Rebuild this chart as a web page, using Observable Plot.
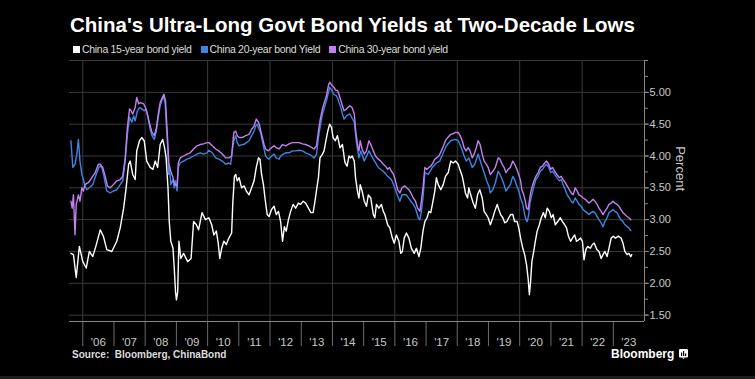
<!DOCTYPE html>
<html><head><meta charset="utf-8">
<script src="https://cdn.jsdelivr.net/npm/d3@7"></script>
<script src="https://cdn.jsdelivr.net/npm/@observablehq/plot@0.6"></script>
<style>
html,body{margin:0;padding:0;background:#000;}
#wrap{position:relative;width:755px;height:379px;background:#000;overflow:hidden;font-family:"Liberation Sans",Arial,sans-serif;}
#chart{position:absolute;left:0;top:0;}
#title{position:absolute;left:70px;top:15px;font-size:20.5px;font-weight:bold;color:#fff;line-height:1;white-space:nowrap;}
#legend{position:absolute;left:73px;top:44.4px;display:flex;gap:9px;font-size:10.5px;line-height:10.5px;color:#ddd;letter-spacing:-0.3px;white-space:nowrap;}
#legend .item{display:flex;align-items:center;}
#legend .sw{width:7px;height:7px;margin-right:2px;}
#source{position:absolute;left:72px;top:349.8px;font-size:10px;line-height:1;font-weight:bold;color:#ddd;white-space:pre;}
#brand{position:absolute;left:611px;top:348px;font-size:12px;line-height:1;font-weight:bold;color:#fff;}
#icon{position:absolute;left:679px;top:349px;}
#strip{position:absolute;left:0;top:376px;width:755px;height:3px;background:#1c1c1c;}
</style></head>
<body>
<div id="wrap">
  <div id="chart"></div>
  <div id="title"></div>
  <div id="legend"></div>
  <div id="source"></div>
  <div id="brand"></div>
  <svg id="icon" width="9" height="10" viewBox="0 0 9 10"><rect x="0" y="0" width="9" height="8.5" rx="1.2" fill="#fff"/><path d="M3 8.5 L4.5 10 L6 8.5Z" fill="#fff"/><rect x="2" y="3.5" width="1.2" height="3.5" fill="#000"/><rect x="4" y="2" width="1.2" height="5" fill="#000"/><rect x="6" y="4.5" width="1.2" height="2.5" fill="#000"/></svg>
  <div id="strip"></div>
</div>
<script>
const titleText = "China's Ultra-Long Govt Bond Yields at Two-Decade Lows";
const sourceText = "Source:  Bloomberg, ChinaBond";
const brandText = "Bloomberg";
const seriesNames = ["China 15-year bond yield", "China 20-year bond Yield", "China 30-year bond yield"];
const seriesColors = ["#ffffff", "#3d85e0", "#c37ff0"];
const tickYears = [2006,2007,2008,2009,2010,2011,2012,2013,2014,2015,2016,2017,2018,2019,2020,2021,2022,2023];
const gridYears = [2006,2008,2010,2012,2014,2016,2018,2020,2022];
const yTicks = [1.5,2.0,2.5,3.0,3.5,4.0,4.5,5.0];
const yGrid = [1.5,2.0,2.5,3.0,3.5,4.0,4.5,5.0,5.5];
const yMinorTicks = [1.5,1.75,2.0,2.25,2.5,2.75,3.0,3.25,3.5,3.75,4.0,4.25,4.5,4.75,5.0,5.25,5.5];

// [decimal year, percent]
const yield15 = [
[2005.62,2.47],[2005.70,2.45],[2005.79,2.09],[2005.89,2.58],[2006.00,2.34],[2006.11,2.24],[2006.21,2.50],[2006.32,2.42],
[2006.43,2.60],[2006.56,2.84],[2006.66,2.74],[2006.77,2.53],[2006.93,2.50],[2007.09,2.66],[2007.20,2.87],[2007.31,3.18],
[2007.39,3.50],[2007.47,3.87],[2007.52,3.92],[2007.60,3.71],[2007.68,3.63],[2007.73,4.08],[2007.82,4.24],[2007.89,4.29],
[2007.97,4.24],[2008.05,3.92],[2008.16,3.82],[2008.25,3.79],[2008.32,3.92],[2008.40,3.82],[2008.48,4.18],[2008.56,4.26],
[2008.62,4.13],[2008.67,3.97],[2008.73,3.50],[2008.77,2.97],[2008.82,2.66],[2008.89,2.55],[2008.93,2.24],[2008.97,1.87],
[2009.00,1.74],[2009.04,1.87],[2009.08,2.66],[2009.14,2.39],[2009.23,2.47],[2009.36,2.34],[2009.47,2.39],[2009.55,2.97],
[2009.64,2.92],[2009.71,2.84],[2009.82,3.11],[2009.93,3.00],[2010.04,3.03],[2010.13,2.92],[2010.20,2.76],[2010.28,2.82],
[2010.34,2.63],[2010.39,2.39],[2010.45,2.55],[2010.52,2.66],[2010.60,2.61],[2010.68,2.71],[2010.77,2.79],[2010.81,3.29],
[2010.86,3.68],[2010.90,3.71],[2010.95,3.61],[2011.01,3.66],[2011.09,3.50],[2011.17,3.53],[2011.24,3.45],[2011.33,3.39],
[2011.41,3.50],[2011.49,3.61],[2011.56,3.82],[2011.63,3.97],[2011.68,3.95],[2011.73,3.71],[2011.79,3.55],[2011.84,3.34],
[2011.91,3.08],[2011.97,3.05],[2012.05,3.16],[2012.13,3.21],[2012.20,3.08],[2012.27,3.13],[2012.34,2.97],[2012.40,2.66],
[2012.46,2.89],[2012.52,2.82],[2012.59,3.00],[2012.66,3.13],[2012.74,3.24],[2012.82,3.18],[2012.91,3.26],[2012.98,3.24],
[2013.06,3.29],[2013.14,3.26],[2013.23,3.18],[2013.31,3.11],[2013.38,3.11],[2013.44,3.29],[2013.50,3.50],[2013.55,3.66],
[2013.60,3.97],[2013.68,4.03],[2013.73,4.08],[2013.79,4.24],[2013.85,4.39],[2013.91,4.50],[2013.97,4.45],[2014.02,4.29],
[2014.09,4.24],[2014.16,4.32],[2014.24,4.13],[2014.32,4.18],[2014.40,3.90],[2014.47,3.84],[2014.53,4.00],[2014.58,3.97],
[2014.63,4.00],[2014.70,3.92],[2014.74,3.66],[2014.81,3.42],[2014.85,3.34],[2014.89,3.55],[2014.95,3.45],[2015.02,3.29],
[2015.09,3.21],[2015.15,3.39],[2015.23,3.34],[2015.31,3.08],[2015.36,3.03],[2015.41,3.24],[2015.49,3.18],[2015.57,3.24],
[2015.63,3.13],[2015.68,3.08],[2015.77,2.92],[2015.84,2.87],[2015.92,2.71],[2015.98,2.63],[2016.05,2.76],[2016.13,2.66],
[2016.19,2.47],[2016.24,2.50],[2016.30,2.71],[2016.37,2.79],[2016.45,2.71],[2016.53,2.55],[2016.62,2.47],[2016.69,2.55],
[2016.77,2.42],[2016.83,2.55],[2016.90,2.82],[2016.96,2.97],[2017.03,3.03],[2017.09,3.13],[2017.15,3.11],[2017.22,3.29],
[2017.28,3.45],[2017.33,3.66],[2017.39,3.55],[2017.47,3.47],[2017.55,3.55],[2017.62,3.68],[2017.71,3.74],[2017.79,3.92],
[2017.87,3.89],[2017.94,3.92],[2018.03,3.87],[2018.08,3.79],[2018.16,3.68],[2018.22,3.53],[2018.26,3.42],[2018.33,3.34],
[2018.37,3.50],[2018.43,3.39],[2018.51,3.26],[2018.58,3.18],[2018.65,3.39],[2018.72,3.47],[2018.80,3.34],[2018.86,3.13],
[2018.93,3.08],[2018.99,3.03],[2019.06,2.92],[2019.14,3.03],[2019.20,3.13],[2019.28,3.24],[2019.33,3.16],[2019.39,3.08],
[2019.46,3.03],[2019.52,2.95],[2019.59,2.97],[2019.65,3.03],[2019.71,3.08],[2019.78,3.08],[2019.84,2.97],[2019.92,2.97],
[2019.97,2.87],[2020.03,2.71],[2020.10,2.55],[2020.16,2.45],[2020.22,2.29],[2020.27,2.08],[2020.31,1.82],[2020.35,2.03],
[2020.39,2.34],[2020.45,2.50],[2020.50,2.66],[2020.56,2.82],[2020.63,2.92],[2020.69,3.03],[2020.76,3.11],[2020.82,3.03],
[2020.88,3.18],[2020.95,3.13],[2021.01,3.03],[2021.07,3.08],[2021.14,2.92],[2021.22,2.97],[2021.30,3.03],[2021.37,2.97],
[2021.44,2.92],[2021.50,2.87],[2021.56,2.74],[2021.63,2.66],[2021.69,2.71],[2021.76,2.76],[2021.82,2.66],[2021.88,2.68],
[2021.95,2.71],[2022.01,2.66],[2022.06,2.37],[2022.12,2.53],[2022.18,2.58],[2022.26,2.55],[2022.33,2.61],[2022.39,2.63],
[2022.47,2.53],[2022.54,2.50],[2022.61,2.39],[2022.67,2.45],[2022.73,2.50],[2022.80,2.42],[2022.86,2.55],[2022.93,2.71],
[2023.00,2.74],[2023.07,2.71],[2023.16,2.74],[2023.25,2.71],[2023.31,2.63],[2023.37,2.50],[2023.44,2.45],[2023.50,2.47],
[2023.56,2.42],[2023.59,2.45]
];

const yield20 = [
[2005.62,4.24],[2005.68,3.82],[2005.75,3.87],[2005.81,4.03],[2005.86,4.26],[2005.91,3.92],[2005.97,3.71],[2006.02,3.63],
[2006.07,3.53],[2006.13,3.47],[2006.21,3.50],[2006.32,3.55],[2006.43,3.71],[2006.53,3.84],[2006.61,3.82],[2006.68,3.68],
[2006.77,3.45],[2006.88,3.42],[2006.98,3.45],[2007.09,3.47],[2007.20,3.55],[2007.28,3.61],[2007.36,3.92],[2007.43,4.34],
[2007.50,4.61],[2007.57,4.53],[2007.63,4.63],[2007.68,4.55],[2007.75,4.71],[2007.82,4.76],[2007.89,4.74],[2007.97,4.71],
[2008.03,4.74],[2008.10,4.58],[2008.16,4.42],[2008.22,4.32],[2008.29,4.26],[2008.35,4.37],[2008.42,4.61],[2008.48,4.79],
[2008.55,4.89],[2008.59,4.95],[2008.64,4.82],[2008.67,4.55],[2008.72,4.13],[2008.75,3.71],[2008.78,3.82],[2008.82,3.55],
[2008.89,3.63],[2008.93,3.50],[2008.97,3.61],[2009.02,3.45],[2009.06,3.82],[2009.12,3.89],[2009.23,3.92],[2009.34,3.95],
[2009.44,3.97],[2009.55,4.00],[2009.66,4.03],[2009.76,4.05],[2009.87,4.03],[2009.98,4.05],[2010.04,4.09],[2010.15,4.05],
[2010.26,3.97],[2010.36,3.95],[2010.47,3.92],[2010.58,3.87],[2010.68,3.89],[2010.74,3.87],[2010.79,4.08],[2010.84,4.24],
[2010.90,4.32],[2010.95,4.21],[2011.01,4.16],[2011.09,4.18],[2011.17,4.18],[2011.24,4.21],[2011.33,4.24],[2011.41,4.32],
[2011.49,4.39],[2011.54,4.47],[2011.59,4.50],[2011.65,4.42],[2011.70,4.37],[2011.75,4.24],[2011.81,4.11],[2011.86,4.00],
[2011.91,3.97],[2011.97,3.95],[2012.05,4.00],[2012.13,4.03],[2012.20,3.97],[2012.29,3.95],[2012.34,4.00],[2012.42,4.03],
[2012.50,4.05],[2012.61,4.05],[2012.72,4.08],[2012.82,4.08],[2012.93,4.09],[2013.04,4.08],[2013.14,4.05],[2013.25,4.03],
[2013.34,4.00],[2013.41,3.97],[2013.49,4.03],[2013.55,4.29],[2013.61,4.47],[2013.68,4.66],[2013.74,4.76],[2013.81,4.87],
[2013.87,5.00],[2013.91,5.08],[2013.98,5.03],[2014.04,4.97],[2014.11,4.95],[2014.16,4.92],[2014.21,4.84],[2014.27,4.76],
[2014.32,4.66],[2014.37,4.58],[2014.45,4.63],[2014.56,4.66],[2014.70,4.53],[2014.77,4.21],[2014.85,3.97],[2014.91,4.08],
[2015.02,3.92],[2015.17,4.08],[2015.31,3.95],[2015.47,3.82],[2015.63,3.76],[2015.77,3.68],[2015.89,3.63],[2016.00,3.50],
[2016.09,3.37],[2016.16,3.29],[2016.23,3.39],[2016.37,3.39],[2016.51,3.29],[2016.59,3.24],[2016.66,3.18],[2016.75,3.03],
[2016.80,3.00],[2016.85,3.13],[2016.91,3.39],[2016.96,3.74],[2017.07,3.71],[2017.20,3.82],[2017.33,3.89],[2017.44,3.92],
[2017.55,4.05],[2017.65,4.16],[2017.79,4.24],[2017.94,4.26],[2018.03,4.24],[2018.13,4.13],[2018.22,4.00],[2018.29,3.92],
[2018.37,3.97],[2018.48,3.82],[2018.56,3.87],[2018.67,4.03],[2018.77,3.87],[2018.88,3.71],[2018.95,3.60],[2019.01,3.53],
[2019.06,3.42],[2019.14,3.47],[2019.22,3.58],[2019.31,3.76],[2019.37,3.71],[2019.44,3.63],[2019.50,3.55],[2019.56,3.45],
[2019.63,3.50],[2019.70,3.55],[2019.78,3.68],[2019.84,3.63],[2019.91,3.53],[2019.97,3.45],[2020.03,3.34],[2020.10,3.24],
[2020.16,3.08],[2020.20,3.00],[2020.24,2.97],[2020.29,3.08],[2020.33,3.26],[2020.39,3.39],[2020.46,3.53],[2020.52,3.63],
[2020.59,3.68],[2020.66,3.76],[2020.73,3.79],[2020.80,3.84],[2020.86,3.87],[2020.93,3.82],[2020.99,3.74],[2021.05,3.76],
[2021.12,3.71],[2021.19,3.66],[2021.27,3.61],[2021.33,3.63],[2021.39,3.55],[2021.46,3.47],[2021.52,3.39],[2021.59,3.34],
[2021.65,3.29],[2021.71,3.26],[2021.78,3.34],[2021.84,3.29],[2021.90,3.24],[2021.97,3.21],[2022.03,3.16],[2022.10,3.13],
[2022.16,3.11],[2022.22,3.08],[2022.29,3.11],[2022.35,3.13],[2022.41,3.11],[2022.48,3.05],[2022.54,3.00],[2022.61,2.95],
[2022.67,2.89],[2022.73,2.97],[2022.80,3.03],[2022.86,3.11],[2022.93,3.13],[2022.99,3.16],[2023.05,3.13],[2023.12,3.11],
[2023.18,3.05],[2023.24,3.00],[2023.31,2.97],[2023.37,2.92],[2023.44,2.89],[2023.50,2.87],[2023.56,2.83]
];

const yield30 = [
[2005.62,3.29],[2005.66,3.18],[2005.70,3.39],[2005.75,2.76],[2005.79,3.24],[2005.86,3.39],[2005.91,3.29],[2005.97,3.50],
[2006.02,3.45],[2006.07,3.55],[2006.18,3.58],[2006.29,3.66],[2006.40,3.74],[2006.50,3.87],[2006.56,3.87],[2006.64,3.82],
[2006.72,3.68],[2006.79,3.53],[2006.88,3.50],[2006.98,3.55],[2007.09,3.61],[2007.20,3.63],[2007.28,3.68],[2007.36,3.97],
[2007.43,4.45],[2007.50,4.74],[2007.55,4.71],[2007.60,4.66],[2007.68,4.76],[2007.73,4.92],[2007.79,4.82],[2007.86,4.84],
[2007.95,4.82],[2008.01,4.76],[2008.07,4.66],[2008.16,4.47],[2008.22,4.37],[2008.29,4.32],[2008.35,4.42],[2008.42,4.66],
[2008.48,4.84],[2008.55,4.92],[2008.60,4.97],[2008.65,4.87],[2008.68,4.61],[2008.72,4.24],[2008.76,3.87],[2008.82,3.76],
[2008.89,3.66],[2008.95,3.55],[2009.02,3.53],[2009.06,3.89],[2009.12,3.97],[2009.23,4.00],[2009.34,4.03],[2009.44,4.05],
[2009.55,4.11],[2009.66,4.16],[2009.76,4.18],[2009.87,4.19],[2009.98,4.21],[2010.04,4.21],[2010.15,4.16],[2010.26,4.11],
[2010.36,4.08],[2010.47,4.03],[2010.58,3.97],[2010.68,3.97],[2010.77,4.00],[2010.84,4.37],[2010.90,4.39],[2010.95,4.32],
[2011.01,4.29],[2011.11,4.29],[2011.22,4.32],[2011.33,4.34],[2011.41,4.42],[2011.49,4.47],[2011.56,4.58],[2011.63,4.53],
[2011.67,4.47],[2011.73,4.34],[2011.81,4.18],[2011.86,4.11],[2011.95,4.08],[2012.02,4.12],[2012.13,4.16],[2012.20,4.13],
[2012.29,4.11],[2012.40,4.18],[2012.50,4.16],[2012.61,4.19],[2012.72,4.21],[2012.82,4.21],[2012.93,4.21],[2013.04,4.19],
[2013.14,4.18],[2013.25,4.16],[2013.34,4.13],[2013.41,4.11],[2013.49,4.16],[2013.55,4.39],[2013.61,4.58],[2013.68,4.74],
[2013.74,4.84],[2013.81,4.95],[2013.87,5.11],[2013.91,5.16],[2013.98,5.11],[2014.04,5.08],[2014.11,5.03],[2014.16,5.03],
[2014.21,4.97],[2014.27,4.87],[2014.32,4.79],[2014.37,4.71],[2014.43,4.73],[2014.49,4.76],[2014.56,4.79],[2014.63,4.76],
[2014.70,4.66],[2014.75,4.37],[2014.81,4.16],[2014.85,4.08],[2014.89,4.24],[2014.95,4.11],[2015.02,4.03],[2015.09,4.08],
[2015.17,4.24],[2015.23,4.18],[2015.31,4.08],[2015.38,4.00],[2015.47,3.95],[2015.55,3.92],[2015.63,3.87],[2015.70,3.84],
[2015.77,3.79],[2015.83,3.82],[2015.89,3.76],[2015.96,3.71],[2016.02,3.61],[2016.09,3.47],[2016.16,3.42],[2016.23,3.50],
[2016.32,3.53],[2016.38,3.50],[2016.45,3.47],[2016.51,3.42],[2016.59,3.34],[2016.66,3.29],[2016.73,3.18],[2016.80,3.13],
[2016.85,3.29],[2016.91,3.55],[2016.96,3.82],[2017.02,3.79],[2017.09,3.82],[2017.15,3.84],[2017.22,3.89],[2017.28,3.95],
[2017.34,3.97],[2017.41,4.00],[2017.49,4.08],[2017.56,4.16],[2017.62,4.24],[2017.71,4.30],[2017.79,4.34],[2017.87,4.35],
[2017.94,4.37],[2018.03,4.37],[2018.09,4.32],[2018.16,4.24],[2018.22,4.13],[2018.28,4.08],[2018.35,4.13],[2018.41,4.08],
[2018.48,3.97],[2018.54,4.03],[2018.61,4.13],[2018.67,4.24],[2018.73,4.18],[2018.80,4.03],[2018.86,3.92],[2018.92,3.88],
[2018.99,3.82],[2019.06,3.71],[2019.14,3.76],[2019.22,3.82],[2019.31,3.97],[2019.37,3.95],[2019.44,3.87],[2019.50,3.82],
[2019.56,3.74],[2019.63,3.79],[2019.70,3.82],[2019.78,3.92],[2019.84,3.87],[2019.91,3.79],[2019.97,3.71],[2020.03,3.61],
[2020.07,3.47],[2020.13,3.39],[2020.18,3.29],[2020.22,3.18],[2020.27,3.16],[2020.31,3.29],[2020.35,3.42],[2020.39,3.50],
[2020.46,3.61],[2020.52,3.68],[2020.59,3.74],[2020.66,3.82],[2020.73,3.84],[2020.80,3.89],[2020.86,3.92],[2020.93,3.87],
[2020.99,3.79],[2021.05,3.82],[2021.12,3.76],[2021.19,3.71],[2021.27,3.66],[2021.33,3.68],[2021.39,3.63],[2021.46,3.58],
[2021.52,3.53],[2021.59,3.47],[2021.65,3.42],[2021.71,3.39],[2021.78,3.50],[2021.84,3.45],[2021.90,3.39],[2021.97,3.37],
[2022.03,3.34],[2022.10,3.32],[2022.16,3.29],[2022.22,3.26],[2022.29,3.29],[2022.35,3.32],[2022.41,3.29],[2022.48,3.24],
[2022.54,3.18],[2022.61,3.13],[2022.67,3.08],[2022.73,3.13],[2022.80,3.18],[2022.86,3.24],[2022.93,3.26],[2022.99,3.29],
[2023.05,3.26],[2023.12,3.24],[2023.18,3.21],[2023.24,3.16],[2023.31,3.11],[2023.37,3.08],[2023.44,3.05],[2023.50,3.03],
[2023.56,3.00]
];

const toDate = (t) => {
  const y = Math.floor(t);
  const a = new Date(y, 0, 1), b = new Date(y + 1, 0, 1);
  return new Date(+a + (t - y) * (b - a));
};
const rows = (arr, name) => arr.map(([t, v]) => ({date: toDate(t), value: v, series: name}));
const d15 = rows(yield15, seriesNames[0]);
const d20 = rows(yield20, seriesNames[1]);
const d30 = rows(yield30, seriesNames[2]);

const xStart = toDate(2005.574);
const xEnd = new Date(2024, 0, 1);

document.getElementById("title").textContent = titleText;
document.getElementById("source").textContent = sourceText;
document.getElementById("brand").textContent = brandText;
const legend = document.getElementById("legend");
seriesNames.forEach((n, i) => {
  const it = document.createElement("div"); it.className = "item";
  const sw = document.createElement("span"); sw.className = "sw"; sw.style.background = seriesColors[i];
  const tx = document.createElement("span"); tx.textContent = n;
  it.appendChild(sw); it.appendChild(tx); legend.appendChild(it);
});

const chart = Plot.plot({
  width: 755, height: 379,
  marginTop: 60, marginBottom: 58, marginLeft: 69, marginRight: 111,
  style: {background: "transparent", color: "#c8c8c8", fontFamily: "Liberation Sans, Arial, sans-serif", fontSize: "11.5px", overflow: "visible"},
  x: {type: "time", domain: [xStart, xEnd], label: null},
  y: {domain: [1.4, 5.5], label: null},
  marks: [
    Plot.gridY(yGrid, {stroke: "#3a3a3a", strokeOpacity: 1}),
    Plot.gridX(gridYears.map(y => new Date(y, 0, 1)), {stroke: "#3a3a3a", strokeOpacity: 1}),
    Plot.axisX(tickYears.map(y => new Date(y, 0, 1)), {tickSize: 25, tickFormat: () => "", stroke: "#6a6a6a", label: null}),
    Plot.axisX(tickYears.map(y => new Date(y, 6, 2)), {tickSize: 0, tickPadding: 16, tickFormat: d => "'" + String(d.getFullYear()).slice(2), label: null}),
    Plot.axisY(yMinorTicks, {anchor: "right", tickSize: 3, tickFormat: () => "", stroke: "#888", label: null}),
    Plot.axisY(yTicks, {anchor: "right", tickSize: 4, tickPadding: 1, tickFormat: d => d.toFixed(2), stroke: "#888", label: null, fontSize: 11}),
    Plot.ruleY([1.4], {stroke: "#888"}),
    Plot.ruleX([xEnd], {stroke: "#888"}),
    Plot.text(["Percent"], {frameAnchor: "right", dx: 36, rotate: 90, fontSize: 13, fill: "#c8c8c8"}),
    Plot.line(d15, {x: "date", y: "value", stroke: seriesColors[0], strokeWidth: 1.4, strokeLinejoin: "round"}),
    Plot.line(d20, {x: "date", y: "value", stroke: seriesColors[1], strokeWidth: 1.4, strokeLinejoin: "round"}),
    Plot.line(d30, {x: "date", y: "value", stroke: seriesColors[2], strokeWidth: 1.4, strokeLinejoin: "round"})
  ]
});
document.getElementById("chart").appendChild(chart);
</script>
</body></html>
